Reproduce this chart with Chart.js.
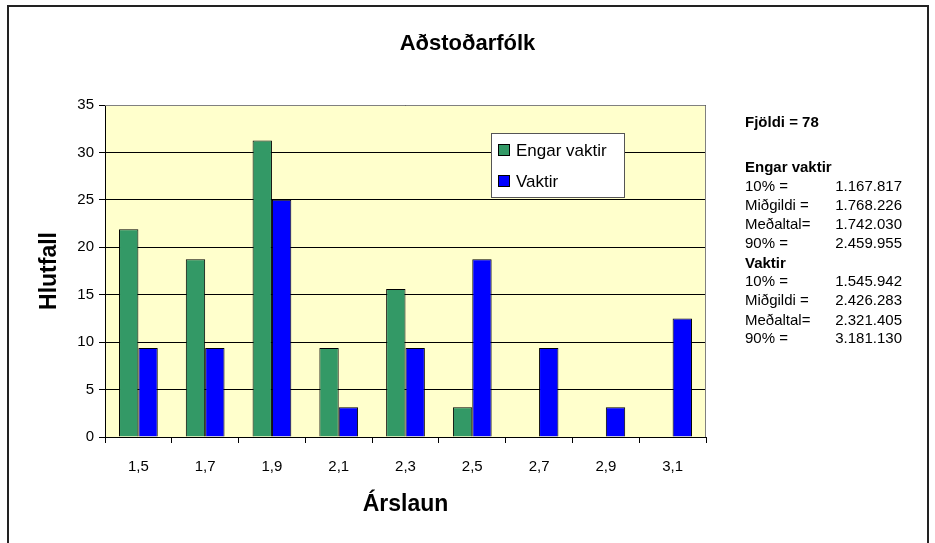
<!DOCTYPE html>
<html>
<head>
<meta charset="utf-8">
<script src="https://cdn.jsdelivr.net/npm/chart.js@4/dist/chart.umd.min.js"></script>
<style>
  html, body { margin: 0; padding: 0; background: #fff; }
  #wrap { position: relative; width: 935px; height: 543px; overflow: hidden; }
  #frame { position: absolute; left: 7px; top: 5px; width: 922px; height: 560px; border: 2px solid #222; border-bottom: none; box-sizing: border-box; }
  canvas { position: absolute; left: 0; top: 0; }
  #title { position: absolute; left: 0; width: 935px; top: 30px; text-align: center; font: bold 22px "Liberation Sans", Arial, sans-serif; color: #000; }
  #stats { position: absolute; left: 745px; top: 113px; width: 157px; font-family: "Liberation Sans", Arial, sans-serif; font-size: 15px; color: #000; }
  #stats div { position: absolute; left: 0; width: 157px; white-space: pre; line-height: 17px; }
  #stats .b { font-weight: bold; }
  #stats .v { position: absolute; right: 0; }
</style>
</head>
<body>
<div id="wrap">
  <div id="frame"></div>
  <canvas id="chart" width="935" height="543"></canvas>
  <div id="title">Aðstoðarfólk</div>
  <div id="stats"></div>
</div>
<script>
const categories = ["1,5", "1,7", "1,9", "2,1", "2,3", "2,5", "2,7", "2,9", "3,1"];
const engarVaktir = [21.9, 18.75, 31.25, 9.375, 15.6, 3.125, 0, 0, 0];
const vaktir = [9.375, 9.375, 25, 3.125, 9.375, 18.75, 9.375, 3.125, 12.5];
const yTicks = [0, 5, 10, 15, 20, 25, 30, 35];

// text block right of the chart: [label, value, bold]
const statLines = [
  ["Fjöldi = 78", "", true],
  ["", "", false],
  ["Engar vaktir", "", true],
  ["10% =", "1.167.817", false],
  ["Miðgildi =", "1.768.226", false],
  ["Meðaltal=", "1.742.030", false],
  ["90% =", "2.459.955", false],
  ["Vaktir", "", true],
  ["10% =", "1.545.942", false],
  ["Miðgildi =", "2.426.283", false],
  ["Meðaltal=", "2.321.405", false],
  ["90% =", "3.181.130", false]
];
const statTops = [0, 22, 45, 64, 83, 102, 121, 141, 159, 178, 198, 216];

const stats = document.getElementById("stats");
statLines.forEach(([label, value, bold], i) => {
  if (!label) return;
  const d = document.createElement("div");
  d.textContent = label;
  if (bold) d.className = "b";
  d.style.top = statTops[i] + "px";
  if (value) {
    const v = document.createElement("span");
    v.className = "v";
    v.textContent = value;
    d.appendChild(v);
  }
  stats.appendChild(d);
});

const FONT = "'Liberation Sans', Arial, sans-serif";

// plot background and grey frame
const plotArea = {
  id: "plotArea",
  beforeDraw(chart) {
    const { ctx, chartArea: a } = chart;
    ctx.save();
    ctx.fillStyle = "#FFFFCC";
    ctx.fillRect(a.left, a.top, a.right - a.left, a.bottom - a.top);
    ctx.restore();
  },
  afterDatasetsDraw(chart) {
    const { ctx, chartArea: a } = chart;
    ctx.save();
    ctx.strokeStyle = "#808080";
    ctx.lineWidth = 1;
    ctx.beginPath();
    ctx.moveTo(a.left, a.top + 0.5);
    ctx.lineTo(a.right - 0.5, a.top + 0.5);
    ctx.lineTo(a.right - 0.5, a.bottom);
    ctx.stroke();
    ctx.restore();
  }
};

// legend box drawn inside the plot
const boxLegend = {
  id: "boxLegend",
  afterDraw(chart) {
    const { ctx } = chart;
    const x = 491, y = 133, w = 133, h = 64;
    ctx.save();
    ctx.fillStyle = "#fff";
    ctx.fillRect(x, y, w, h);
    ctx.strokeStyle = "#555";
    ctx.lineWidth = 1;
    ctx.strokeRect(x + 0.5, y + 0.5, w, h);
    ctx.font = "17px " + FONT;
    ctx.textBaseline = "middle";
    chart.data.datasets.forEach((ds, i) => {
      const cy = y + 17 + i * 31;
      ctx.fillStyle = ds.backgroundColor;
      ctx.fillRect(x + 7, cy - 6, 12, 12);
      ctx.strokeStyle = "#000";
      ctx.strokeRect(x + 7.5, cy - 5.5, 11, 11);
      ctx.fillStyle = "#000";
      ctx.fillText(ds.label, x + 25, cy + 1);
    });
    ctx.restore();
  }
};

new Chart(document.getElementById("chart").getContext("2d"), {
  type: "bar",
  data: {
    labels: categories,
    datasets: [
      { label: "Engar vaktir", data: engarVaktir, backgroundColor: "#339966", borderColor: "#000", borderWidth: 1 },
      { label: "Vaktir", data: vaktir, backgroundColor: "#0000FF", borderColor: "#000", borderWidth: 1 }
    ]
  },
  options: {
    responsive: false,
    animation: false,
    categoryPercentage: 0.58,
    barPercentage: 1,
    layout: { padding: { left: 8, right: 229, top: 105, bottom: 0 } },
    plugins: {
      legend: { display: false },
      tooltip: { enabled: false },
      title: { display: false }
    },
    scales: {
      x: {
        grid: { drawOnChartArea: false, color: "#000", tickLength: 6, offset: true },
        border: { color: "#000" },
        ticks: { color: "#000", padding: 15, font: { family: FONT, size: 15 } },
        title: { display: true, text: "Árslaun", color: "#000", font: { family: FONT, size: 23, weight: "bold" }, padding: { top: 0, bottom: 25 } },
        afterFit(scale) { scale.height = 106; }
      },
      y: {
        min: 0,
        max: 35,
        afterBuildTicks(scale) { scale.ticks = yTicks.map(v => ({ value: v })); },
        grid: { color: "#000", tickLength: 6 },
        border: { color: "#000" },
        ticks: { color: "#000", padding: 5, font: { family: FONT, size: 15 } },
        title: { display: true, text: "Hlutfall", color: "#000", font: { family: FONT, size: 23, weight: "bold" }, padding: { top: 28, bottom: 0 } },
        afterFit(scale) { scale.width = 97; }
      }
    }
  },
  plugins: [plotArea, boxLegend]
});
</script>
</body>
</html>
